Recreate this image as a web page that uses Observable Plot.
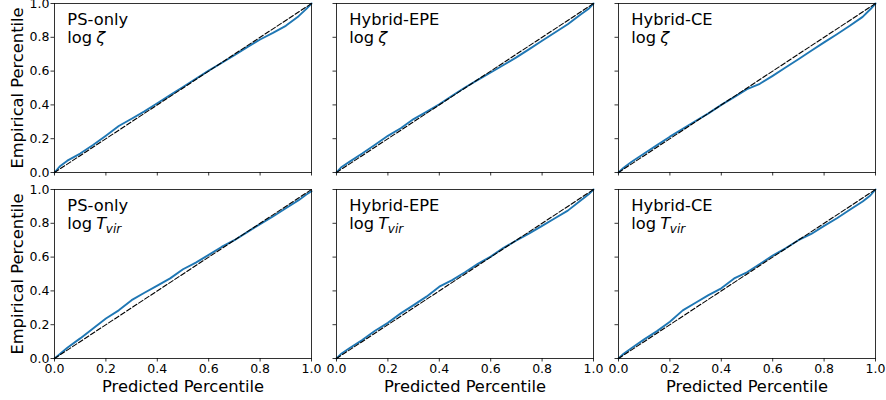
<!DOCTYPE html>
<html><head><meta charset="utf-8">
<script src="https://cdn.jsdelivr.net/npm/d3@7"></script>
<script src="https://cdn.jsdelivr.net/npm/@observablehq/plot@0.6"></script>
<style>body{margin:0;background:#fff} #chart{width:886px;height:400px}</style>
</head><body><div id="chart"></div>
<script>
// ---- data ----
const models = ["PS-only", "Hybrid-EPE", "Hybrid-CE"];
const params = ["zeta", "Tvir"];
const ticks = [0, 0.2, 0.4, 0.6, 0.8, 1.0];
const predicted = [0, 0.02, 0.05, 0.1, 0.15, 0.2, 0.25, 0.3, 0.35, 0.4, 0.45, 0.5, 0.55, 0.6, 0.65, 0.7, 0.75, 0.8, 0.85, 0.9, 0.95, 0.98, 1];
const psOnlyZeta    = [0, 0.035, 0.07, 0.112, 0.163, 0.218, 0.275, 0.318, 0.362, 0.41, 0.458, 0.506, 0.555, 0.603, 0.648, 0.694, 0.742, 0.787, 0.826, 0.868, 0.925, 0.968, 1];
const hybridEpeZeta = [0, 0.033, 0.063, 0.112, 0.164, 0.217, 0.262, 0.316, 0.359, 0.404, 0.454, 0.503, 0.548, 0.592, 0.636, 0.681, 0.73, 0.78, 0.828, 0.877, 0.935, 0.967, 1];
const hybridCeZeta  = [0, 0.028, 0.062, 0.112, 0.162, 0.212, 0.258, 0.305, 0.35, 0.4, 0.446, 0.493, 0.525, 0.572, 0.621, 0.67, 0.72, 0.77, 0.818, 0.868, 0.921, 0.966, 1];
const psOnlyTvir    = [0, 0.025, 0.063, 0.119, 0.178, 0.237, 0.285, 0.345, 0.389, 0.431, 0.474, 0.528, 0.567, 0.613, 0.66, 0.70, 0.748, 0.795, 0.84, 0.889, 0.937, 0.97, 0.99];
const hybridEpeTvir = [0, 0.03, 0.061, 0.109, 0.164, 0.211, 0.267, 0.316, 0.366, 0.425, 0.464, 0.51, 0.56, 0.603, 0.655, 0.698, 0.74, 0.785, 0.83, 0.875, 0.935, 0.97, 1];
const hybridCeTvir  = [0, 0.028, 0.061, 0.113, 0.162, 0.217, 0.285, 0.33, 0.375, 0.415, 0.474, 0.51, 0.559, 0.609, 0.652, 0.70, 0.737, 0.785, 0.83, 0.88, 0.929, 0.965, 1];
const symbols = {zeta: "ζ", Tvir: "T"};
const subscripts = {zeta: "", Tvir: "vir"};

// ---- tables ----
const seriesList = [
  ["PS-only", "zeta", psOnlyZeta], ["Hybrid-EPE", "zeta", hybridEpeZeta], ["Hybrid-CE", "zeta", hybridCeZeta],
  ["PS-only", "Tvir", psOnlyTvir], ["Hybrid-EPE", "Tvir", hybridEpeTvir], ["Hybrid-CE", "Tvir", hybridCeTvir]
];
const rows = [];
for (const [model, param, vals] of seriesList)
  predicted.forEach((p, i) => rows.push({model, param, predicted: p, empirical: vals[i]}));
const panels = seriesList.map(([model, param]) => ({model, param}));
const diag = [];
for (const pn of panels) for (const v of [0, 1]) diag.push({...pn, v});
const bottomPanels = panels.filter(d => d.param === "Tvir");
const leftPanels = panels.filter(d => d.model === "PS-only");

const font = "DejaVu Sans";
const chart = Plot.plot({
  width: 886, height: 400,
  marginLeft: 53.3, marginRight: 11.6, marginTop: 2.7, marginBottom: 42.3,
  style: {fontFamily: font, background: "white", color: "black"},
  fx: {domain: models, paddingInner: 0.09, paddingOuter: 0, axis: null, label: null},
  fy: {domain: params, paddingInner: 0.0914, paddingOuter: 0, axis: null, label: null},
  x: {domain: [0, 1], label: null},
  y: {domain: [0, 1], label: null},
  marks: [
    Plot.line(rows, {fx: "model", fy: "param", x: "predicted", y: "empirical", stroke: "#1f77b4", strokeWidth: 1.9}),
    Plot.line(diag, {fx: "model", fy: "param", x: "v", y: "v", stroke: "black", strokeWidth: 1.1, strokeDasharray: "5,2.2"}),
    Plot.frame({stroke: "black", strokeWidth: 0.8}),
    // ticks on every panel
    Plot.axisX({ticks, tickSize: 3.5, fill: "none", stroke: "black", strokeWidth: 0.8, label: null, facetAnchor: null}),
    Plot.axisY({ticks, tickSize: 3.5, fill: "none", stroke: "black", strokeWidth: 0.8, label: null, facetAnchor: null}),
    // tick labels on outer panels
    Plot.axisX({ticks, tickSize: 0, tickPadding: 6, tickFormat: ".1f", fontSize: 12.5, fill: "black", label: null, facetAnchor: "bottom"}),
    Plot.axisY({ticks, tickSize: 0, tickPadding: 5, tickFormat: ".1f", fontSize: 12.5, fill: "black", label: null, facetAnchor: "left"}),
    // axis titles
    Plot.text(bottomPanels, {fx: "model", fy: "param", frameAnchor: "bottom", text: () => "Predicted Percentile", fontSize: 16.3, textAnchor: "middle", lineAnchor: "bottom", dy: 33.5, fill: "black"}),
    Plot.text(leftPanels, {fx: "model", fy: "param", frameAnchor: "left", text: () => "Empirical Percentile", fontSize: 16.3, rotate: -90, textAnchor: "middle", lineAnchor: "bottom", dx: -32, fill: "black"}),
    // panel annotations
    Plot.text(panels, {fx: "model", fy: "param", x: () => 0.05, y: () => 0.95, text: "model", textAnchor: "start", lineAnchor: "top", fontSize: 16.3, dy: 1, fill: "black"}),
    Plot.text(panels, {fx: "model", fy: "param", x: () => 0.05, y: () => 0.95, text: () => "log", textAnchor: "start", lineAnchor: "top", fontSize: 16.3, dy: 19.5, fill: "black"}),
    Plot.text(panels, {fx: "model", fy: "param", x: () => 0.05, y: () => 0.95, text: d => symbols[d.param], textAnchor: "start", lineAnchor: "top", fontSize: 16.3, fontStyle: "italic", dx: 29, dy: 19.5, fill: "black"}),
    Plot.text(panels.filter(d => subscripts[d.param]), {fx: "model", fy: "param", x: () => 0.05, y: () => 0.95, text: d => subscripts[d.param], textAnchor: "start", lineAnchor: "top", fontSize: 12, fontStyle: "italic", dx: 38.5, dy: 27, fill: "black"})
  ]
});
document.getElementById("chart").appendChild(chart);
</script>
</body></html>
